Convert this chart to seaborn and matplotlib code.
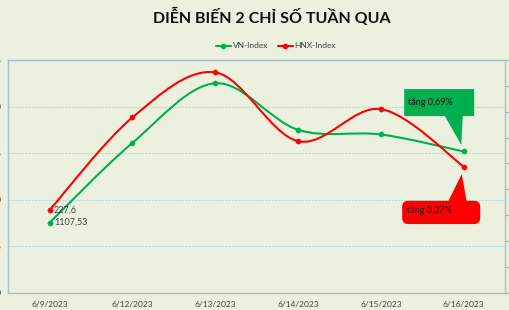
import matplotlib
matplotlib.use("Agg")
import matplotlib.pyplot as plt
import seaborn as sns
import numpy as np
import pandas as pd
from matplotlib.path import Path
from matplotlib.patches import PathPatch, Polygon, FancyBboxPatch
from matplotlib.lines import Line2D

dates = ["6/9/2023", "6/12/2023", "6/13/2023", "6/14/2023", "6/15/2023", "6/16/2023"]
vn_index = [1107.53, 1116.1, 1122.5, 1117.5, 1117.0, 1115.17]
hnx_index = [227.60, 229.39, 230.26, 228.93, 229.55, 228.44]
vn_ticks = [1100, 1105, 1110, 1115, 1120, 1125]
hnx_ticks = [226.0, 226.5, 227.0, 227.5, 228.0, 228.5, 229.0, 229.5, 230.0, 230.5]
title = "DIỄN BIẾN 2 CHỈ SỐ TUẦN QUA"
vn_note = "tăng 0,69%"
hnx_note = "tăng 0,37%"

GREEN = "#00B050"
RED = "#FF0000"
BG = "#EBF1DE"
TXT = "#404040"

sns.set_theme(style="white")
plt.rcParams["font.family"] = ["Lato", "DejaVu Sans"]

df = pd.DataFrame({"x": np.arange(len(dates)), "vn": vn_index, "hnx": hnx_index})

fig = plt.figure(figsize=(5.1, 3.1), dpi=100, facecolor=BG)
ax = fig.add_axes([8.3 / 510, 1 - 292.7 / 310, 496.7 / 510, 232.7 / 310])
ax.set_facecolor(BG)
ax2 = ax.twinx()


def smooth_path(xs, ys):
    xs = np.asarray(xs, float)
    ys = np.asarray(ys, float)
    n = len(xs)
    verts = [(xs[0], ys[0])]
    codes = [Path.MOVETO]
    for i in range(n - 1):
        p0 = np.array([xs[max(i - 1, 0)], ys[max(i - 1, 0)]])
        p1 = np.array([xs[i], ys[i]])
        p2 = np.array([xs[i + 1], ys[i + 1]])
        p3 = np.array([xs[min(i + 2, n - 1)], ys[min(i + 2, n - 1)]])
        c1 = p1 + (p2 - p0) / 6.0
        c2 = p2 - (p3 - p1) / 6.0
        verts += [tuple(c1), tuple(c2), tuple(p2)]
        codes += [Path.CURVE4] * 3
    return Path(verts, codes)


ax.add_patch(PathPatch(smooth_path(df["x"], df["vn"]), fill=False, edgecolor=GREEN, lw=1.5, zorder=3))
ax2.add_patch(PathPatch(smooth_path(df["x"], df["hnx"]), fill=False, edgecolor=RED, lw=1.5, zorder=3))
sns.scatterplot(data=df, x="x", y="vn", ax=ax, color=GREEN, s=14, edgecolor=GREEN, zorder=4, legend=False)
sns.scatterplot(data=df, x="x", y="hnx", ax=ax2, color=RED, s=14, edgecolor=RED, zorder=4, legend=False)

ax.set_xlim(-0.5, len(dates) - 0.5)
ax.set_ylim(vn_ticks[0], vn_ticks[-1])
ax2.set_ylim(hnx_ticks[0], hnx_ticks[-1])
ax.set_xticks(df["x"])
ax.set_xticklabels(dates)
ax.set_yticks(vn_ticks)
ax.set_yticklabels([str(v) for v in vn_ticks])
ax2.set_yticks(hnx_ticks)
ax2.set_yticklabels([])
ax.set_xlabel("")
ax.set_ylabel("")
ax2.set_ylabel("")

ax.tick_params(axis="x", length=0, pad=6, labelsize=6, labelcolor=TXT)
ax.tick_params(axis="y", length=0, pad=5, labelsize=6.5, labelcolor=TXT)
ax2.tick_params(axis="y", length=4, width=0.8, color="#9FB4BE", direction="out")

ax.grid(axis="y", color="#B7DDE3", lw=0.8, linestyle=(0, (2, 1)))
ax.grid(axis="x", visible=False)
for a in (ax, ax2):
    for s in a.spines.values():
        s.set_color("#A9C2CA")
        s.set_linewidth(0.9)

# data labels at first point
ax2.annotate(f"{hnx_index[0]:g}".replace(".", ","), (df["x"][0], hnx_index[0]), xytext=(3, 0),
             textcoords="offset points", ha="left", va="center", fontsize=6.5, color=TXT, zorder=5)
ax.annotate(f"{vn_index[0]:.2f}".replace(".", ","), (df["x"][0], vn_index[0]), xytext=(3, 0),
            textcoords="offset points", ha="left", va="center", fontsize=6.5, color=TXT, zorder=5)

# callouts (axes fraction coordinates)
tr = ax2.transAxes
ax2.add_patch(Polygon([(0.797, 0.875), (0.938, 0.875), (0.938, 0.759), (0.915, 0.759),
                       (0.912, 0.635), (0.879, 0.759), (0.797, 0.759)],
                      closed=True, transform=tr, facecolor=GREEN, edgecolor="none", zorder=6))
ax2.text(0.805, 0.817, vn_note, transform=tr, fontsize=6.5, color="#111111", va="center", ha="left", zorder=7)

ax2.add_patch(FancyBboxPatch((0.793, 0.295), 0.157, 0.1, boxstyle="round,pad=0,rounding_size=0.012",
                             transform=tr, facecolor=RED, edgecolor="none", zorder=6, mutation_aspect=2.1))
ax2.add_patch(Polygon([(0.885, 0.39), (0.913, 0.51), (0.923, 0.39)], closed=True, transform=tr,
                      facecolor=RED, edgecolor="none", zorder=6))
ax2.text(0.803, 0.355, hnx_note, transform=tr, fontsize=6.5, color="#222222", va="center", ha="left", zorder=7)

# title and legend
fig.text(272 / 510, 1 - 17 / 310, title, ha="center", va="center", fontsize=11.5, fontweight="bold", color="#111111")
handles = [Line2D([], [], color=GREEN, lw=1.5, marker="o", markersize=3, label="VN-Index"),
           Line2D([], [], color=RED, lw=1.5, marker="o", markersize=3, label="HNX-Index")]
fig.legend(handles=handles, loc="center", bbox_to_anchor=(276 / 510, 1 - 46 / 310), ncol=2, frameon=False,
           fontsize=6, labelcolor=TXT, handlelength=1.8, handletextpad=0.2, columnspacing=1.2)

fig.savefig("out.png", dpi=100, facecolor=BG)
